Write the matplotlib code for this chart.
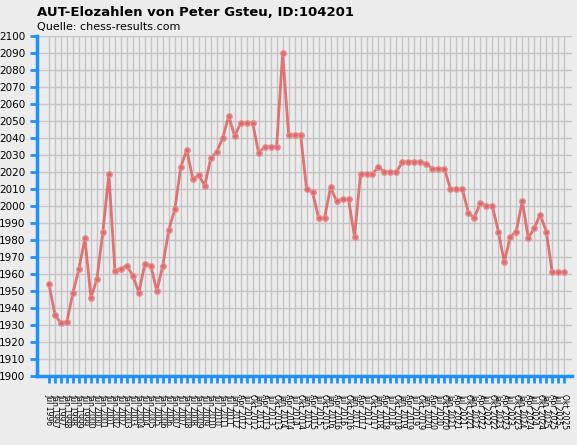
import matplotlib
matplotlib.use("Agg")
import matplotlib.pyplot as plt

elo = [1954,1936,1931,1932,1949,1963,1981,1946,1957,1985,2019,1962,1963,1965,1959,1949,1966,1965,1950,1965,
       1986,1998,2023,2033,2016,2018,2012,2028,2032,2040,2053,2041,2049,2049,2049,2031,2035,2035,2035,2090,
       2042,2042,2042,2010,2008,1993,1993,2011,2003,2004,2004,1982,2019,2019,2019,2023,2020,2020,2020,2026,
       2026,2026,2026,2025,2022,2022,2022,2010,2010,2010,1996,1993,2002,2000,2000,1985,1967,1982,1985,2003,
       1981,1987,1995,1985,1961,1961,1961]

labels = ["Jul 1996","Jan 1997","Jul 1997","Jan 1998","Jul 1998","Jan 1999","Jul 1999","Jan 2000",
          "Jul 2000","Jan 2001","Jul 2001","Jan 2002","Jul 2002","Jan 2003","Jul 2003","Jan 2004",
          "Jul 2004","Jan 2005","Jul 2005","Jan 2006","Jul 2006","Jan 2007","Jul 2007","Jan 2008",
          "Jul 2008","Jan 2009","Jul 2009","Jan 2010","Jul 2010","Jan 2011","Jul 2011","Jan 2012",
          "Apr 2012","Jul 2012","Okt 2012","Jan 2013","Apr 2013","Jul 2013","Okt 2013","Jan 2014",
          "Apr 2014","Jul 2014","Okt 2014","Jan 2015","Apr 2015","Jul 2015","Okt 2015","Jan 2016",
          "Apr 2016","Jul 2016","Okt 2016","Jan 2017","Apr 2017","Jul 2017","Okt 2017","Jan 2018",
          "Apr 2018","Jul 2018","Okt 2018","Jan 2019","Apr 2019","Jul 2019","Okt 2019","Jan 2020",
          "Apr 2020","Jul 2020","Okt 2020","Jan 2021","Apr 2021","Jul 2021","Okt 2021","Jan 2022",
          "Apr 2022","Jul 2022","Okt 2022","Jan 2023","Apr 2023","Jul 2023","Okt 2023","Jan 2024",
          "Apr 2024","Jul 2024","Okt 2024","Jan 2025","Apr 2025","Jul 2025","Okt 2025"]

bg = "#ececec"
fig = plt.figure(figsize=(5.77, 4.45), dpi=100, facecolor=bg)
ax = fig.add_axes([37/577, 1-376/445, (572-37)/577, 340/445], facecolor=bg)
x = list(range(len(elo)))
ax.plot(x, elo, color="#e06666", lw=2, marker="o", ms=4, mfc="#e06666", mec="#e59090", alpha=0.9, zorder=3)
ax.set_ylim(1900, 2100)
ax.set_xlim(-2, len(elo) + 0.3)
ax.set_yticks(range(1900, 2101, 10))
ax.set_xticks(x)
ax.set_xticklabels(labels, rotation=270, fontsize=5.5)
ax.tick_params(axis="y", labelsize=7.5, colors="#1e90ff", labelcolor="black", length=5, width=2, direction="out")
ax.tick_params(axis="x", colors="#1e90ff", labelcolor="black", length=5, width=2, direction="out", pad=8)
ax.grid(True, color="#c4c4c4", lw=1)
for s in ["top", "right"]:
    ax.spines[s].set_visible(False)
for s in ["left", "bottom"]:
    ax.spines[s].set_color("#1e90ff")
    ax.spines[s].set_linewidth(2.5)
fig.text(37/577, 1-12/445, "AUT-Elozahlen von Peter Gsteu, ID:104201", fontsize=9.5, fontweight="bold", va="center")
fig.text(37/577, 1-27/445, "Quelle: chess-results.com", fontsize=8, va="center")
fig.savefig("out.png", dpi=100, facecolor=bg)
